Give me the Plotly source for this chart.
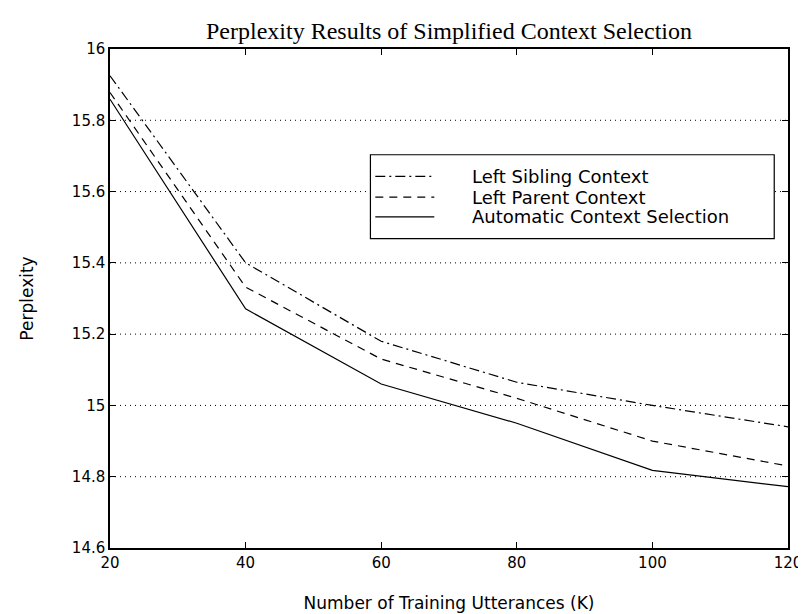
import plotly.graph_objects as go

x_k = [20, 40, 60, 80, 100, 120]
left_sibling = [15.925, 15.40, 15.18, 15.065, 15.00, 14.94]
left_parent = [15.878, 15.332, 15.13, 15.02, 14.90, 14.83]
automatic = [15.859, 15.271, 15.06, 14.95, 14.818, 14.772]

names = ["Left Sibling Context", "Left Parent Context", "Automatic Context Selection"]
dashes = ["10px,4px,2px,4px", "8px,6px", "solid"]
series = [left_sibling, left_parent, automatic]

y_ticks = [14.6, 14.8, 15.0, 15.2, 15.4, 15.6, 15.8, 16.0]
y_tick_text = ["14.6", "14.8", "15", "15.2", "15.4", "15.6", "15.8", "16"]
x_ticks = [20, 40, 60, 80, 100, 120]

SANS = "DejaVu Sans, Arial"

fig = go.Figure()
for name, vals, d in zip(names, series, dashes):
    fig.add_trace(go.Scatter(x=x_k, y=vals, mode="lines", name=name,
                             line=dict(color="black", width=1.2, dash=d),
                             showlegend=False))

# dotted horizontal grid lines
for v in y_ticks[1:-1]:
    fig.add_shape(type="line", xref="paper", yref="y", x0=0, x1=1, y0=v, y1=v,
                  line=dict(color="black", width=1, dash="1px,4px"), layer="below")

# manual legend (MATLAB style)
bx0, bx1, by0, by1 = 0.3841, 0.9797, 0.6198, 0.7881
fig.add_shape(type="rect", xref="paper", yref="paper", x0=bx0, x1=bx1, y0=by0, y1=by1,
              line=dict(color="black", width=1.2), fillcolor="white")
rows = [0.7446, 0.7030, 0.6634]
for name, d, ry in zip(names, dashes, rows):
    fig.add_shape(type="line", xref="paper", yref="paper", x0=0.3913, x1=0.4783,
                  y0=ry, y1=ry, line=dict(color="black", width=1.2, dash=d))
    fig.add_annotation(xref="paper", yref="paper", x=0.5304, y=ry, text=name,
                       showarrow=False, xanchor="left", yanchor="middle",
                       font=dict(family=SANS, size=18, color="black"))

fig.update_layout(
    width=806, height=614,
    margin=dict(l=102, r=14, t=41, b=68),
    paper_bgcolor="white", plot_bgcolor="white",
    title=dict(text="Perplexity Results of Simplified Context Selection",
               xref="paper", x=0.5, xanchor="center",
               yref="container", y=1 - 23 / 614, yanchor="middle",
               font=dict(family="Liberation Serif, Times New Roman", size=24, color="black")),
    font=dict(family=SANS, size=15, color="black"),
)
fig.update_xaxes(range=[20, 120], tickvals=x_ticks, ticks="inside", ticklen=6,
                 showgrid=False, zeroline=False, showline=True, linecolor="black",
                 linewidth=1.5, mirror="ticks", tickcolor="black",
                 ticklabeloverflow="allow",
                 tickfont=dict(family=SANS, size=15),
                 title=dict(text="Number of Training Utterances (K)", standoff=26,
                            font=dict(family=SANS, size=17)))
fig.update_yaxes(range=[14.6, 16.0], tickvals=y_ticks, ticktext=y_tick_text,
                 ticks="inside", ticklen=6,
                 showgrid=False, zeroline=False, showline=True, linecolor="black",
                 linewidth=1.5, mirror="ticks", tickcolor="black",
                 ticklabeloverflow="allow",
                 tickfont=dict(family=SANS, size=15),
                 title=dict(text="Perplexity", standoff=34,
                            font=dict(family=SANS, size=17)))

fig.write_html("out.html")
